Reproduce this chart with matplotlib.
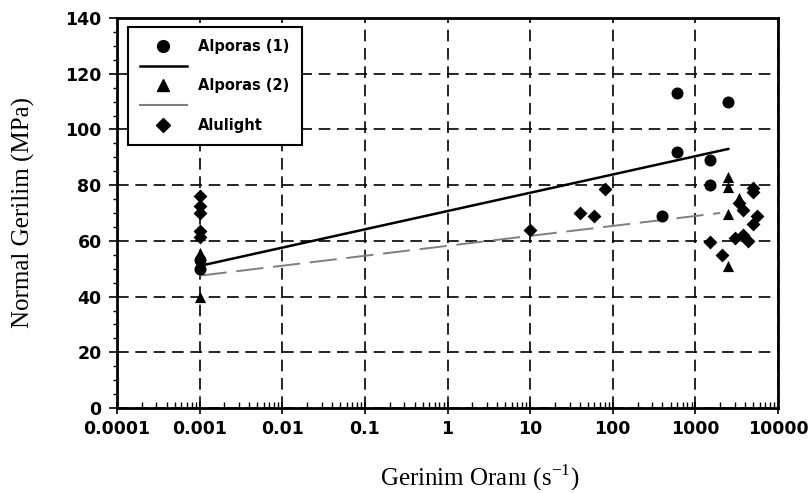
import matplotlib
matplotlib.use("Agg")
import matplotlib.pyplot as plt
from matplotlib.lines import Line2D
from matplotlib.ticker import LogLocator, MultipleLocator, FixedLocator, FixedFormatter, NullFormatter

# ---- data ----
alporas1_x = [0.001, 0.001, 600, 600, 1500, 1500, 2500, 400]
alporas1_y = [53, 50, 113, 92, 89, 80, 110, 69]

alporas2_x = [0.001, 0.001, 0.001, 2500, 2500, 2500, 3400, 2500]
alporas2_y = [62, 55.5, 40, 83, 79.5, 69.5, 75.5, 51]

alulight_x = [0.001, 0.001, 0.001, 0.001, 0.001, 10, 40, 60, 80,
              5000, 5000, 3400, 3800, 5600, 5000, 3000, 3800, 4300, 1500, 2100]
alulight_y = [76, 72.5, 70, 63.5, 61.5, 64, 70, 69, 78.5,
              79, 77.5, 73.5, 71, 69, 66, 61, 62, 60, 59.5, 55]

fit1_x = [0.001, 2500]
fit1_y = [51, 93]
fit2_x = [0.001, 2000]
fit2_y = [47.5, 70]

xtick_vals = [0.0001, 0.001, 0.01, 0.1, 1, 10, 100, 1000, 10000]
xtick_labels = ["0.0001", "0.001", "0.01", "0.1", "1", "10", "100", "1000", "10000"]
ytick_vals = [0, 20, 40, 60, 80, 100, 120, 140]

# ---- figure ----
fig = plt.figure(figsize=(8.11, 4.93), dpi=100)
ax = fig.add_axes([117/811, 1 - 408/493, (778-117)/811, (408-18)/493])
ax.set_xscale("log")
ax.set_xlim(0.0001, 10000)
ax.set_ylim(0, 140)

ax.grid(True, which="major", color="black", linestyle=(0, (7, 4)), linewidth=1.2)
ax.set_axisbelow(True)

ax.plot(fit1_x, fit1_y, color="black", linewidth=1.8, zorder=3)
ax.plot(fit2_x, fit2_y, color="#7f7f7f", linewidth=1.4, linestyle=(0, (14, 5)), zorder=3)

ax.scatter(alporas1_x, alporas1_y, marker="o", s=75, color="black", zorder=4, linewidths=0)
ax.scatter(alporas2_x, alporas2_y, marker="^", s=65, color="black", zorder=4, linewidths=0)
ax.scatter(alulight_x, alulight_y, marker="D", s=50, color="black", zorder=4, linewidths=0)

for s in ax.spines.values():
    s.set_linewidth(2)
    s.set_color("black")

ax.xaxis.set_major_locator(FixedLocator(xtick_vals))
ax.xaxis.set_major_formatter(FixedFormatter(xtick_labels))
ax.xaxis.set_minor_locator(LogLocator(base=10, subs=range(2, 10), numticks=20))
ax.xaxis.set_minor_formatter(NullFormatter())
ax.yaxis.set_major_locator(FixedLocator(ytick_vals))
ax.yaxis.set_minor_locator(MultipleLocator(5))

ax.tick_params(axis="x", which="major", direction="inout", length=8, width=1.2, pad=5)
ax.tick_params(axis="x", which="minor", direction="in", length=4, width=1)
ax.tick_params(axis="y", which="major", direction="out", length=6, width=1.2, pad=5)
ax.tick_params(axis="y", which="minor", direction="out", length=3, width=1)

for lab in ax.get_xticklabels() + ax.get_yticklabels():
    lab.set_fontfamily("DejaVu Sans")
    lab.set_fontweight("bold")
    lab.set_fontsize(12.5)

ax.set_xlabel("Gerinim Oranı (s$^{\\mathregular{-1}}$)", fontfamily="Liberation Serif",
              fontsize=18)
ax.xaxis.set_label_coords((480 - 117) / 661, -(478 - 408) / 390)
ax.xaxis.label.set_verticalalignment("center")
ax.set_ylabel("Normal Gerilim (MPa)", fontfamily="Liberation Serif", fontsize=18)
ax.yaxis.set_label_coords(-(117 - 23) / 661, 0.5)
ax.yaxis.label.set_verticalalignment("center")

handles = [
    Line2D([], [], marker="o", linestyle="none", color="black", markersize=8.5),
    Line2D([], [], color="black", linewidth=1.8),
    Line2D([], [], marker="^", linestyle="none", color="black", markersize=8),
    Line2D([], [], color="#7f7f7f", linewidth=1.5),
    Line2D([], [], marker="D", linestyle="none", color="black", markersize=7),
]
labels = ["Alporas (1)", "", "Alporas (2)", "", "Alulight"]
leg = ax.legend(handles, labels, loc="upper left", bbox_to_anchor=(0.016, 0.978),
                prop={"family": "DejaVu Sans", "weight": "bold", "size": 10.5},
                frameon=True, fancybox=False, edgecolor="black", framealpha=1,
                handlelength=3.2, handletextpad=0.8, labelspacing=0.32,
                borderpad=0.85, borderaxespad=0)
leg.get_frame().set_linewidth(1.5)

fig.savefig("out.png", dpi=100)
